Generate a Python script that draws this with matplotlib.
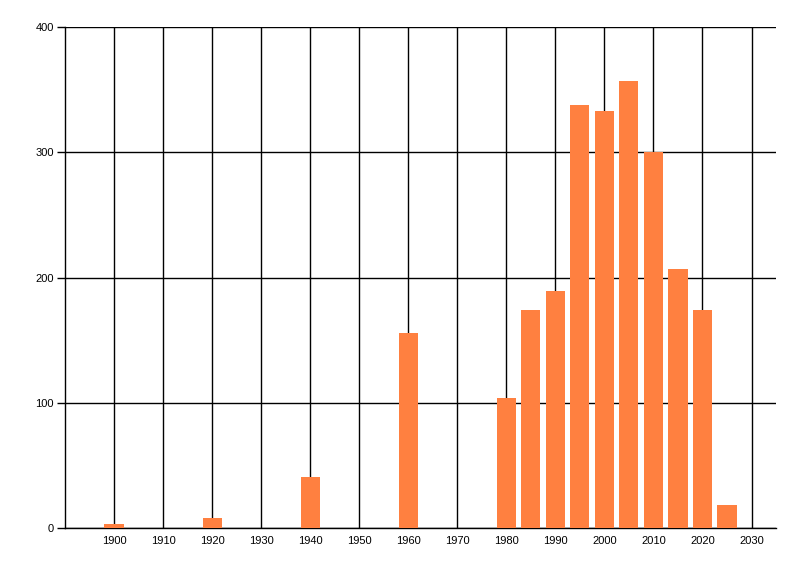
import matplotlib
matplotlib.use('Agg')
from matplotlib import pyplot as plt

plt.rcParams['font.family'] = ['Liberation Sans', 'DejaVu Sans']

# year of each bar and its count
years = [1900, 1920, 1940, 1960, 1980, 1985, 1990, 1995, 2000, 2005, 2010, 2015, 2020, 2025]
counts = [3, 8, 41, 156, 104, 174, 189, 338, 333, 357, 300, 207, 174, 18]

x_ticks = list(range(1900, 2031, 10))
y_ticks = [0, 100, 200, 300, 400]

fig = plt.figure(figsize=(8, 5.76), dpi=100)
ax = fig.add_axes([0.08125, 0.0833, 0.8888, 0.8698])

ax.bar(years, counts, width=3.9, color='#FF8040', zorder=3)

ax.set_xlim(1890, 2035)
ax.set_ylim(0, 400)
ax.set_xticks(x_ticks)
ax.set_yticks(y_ticks)
ax.grid(True, color='black', linewidth=1, zorder=1)

ax.spines['top'].set_visible(False)
ax.spines['right'].set_visible(False)
ax.spines['left'].set_linewidth(1)
ax.spines['bottom'].set_linewidth(1)
ax.tick_params(axis='x', length=0, pad=6, labelsize=8)
ax.tick_params(axis='y', length=6, width=1, pad=2, labelsize=8)

fig.savefig('out.png', dpi=100)
